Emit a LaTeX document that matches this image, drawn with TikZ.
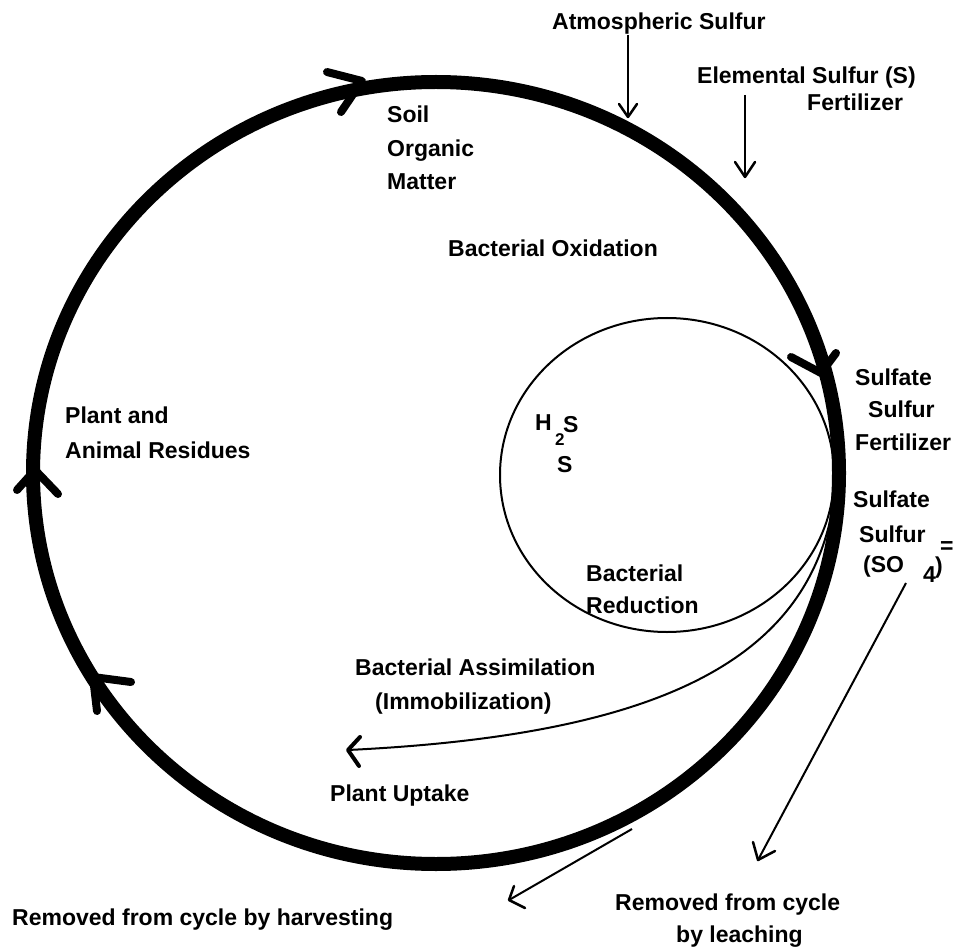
\documentclass[tikz,border=0pt]{standalone}
\usepackage{fontspec}
\setmainfont{Liberation Sans}
\begin{document}
\begin{tikzpicture}[x=1pt,y=-1pt,
  lbl/.style={anchor=base west, inner sep=0pt, font=\bfseries\fontsize{23}{28}\selectfont},
  sublbl/.style={anchor=base west, inner sep=0pt, font=\bfseries\fontsize{17}{20}\selectfont},
  bigring/.style={line width=14pt},
  smallring/.style={line width=2pt},
  barb/.style={line width=8pt, line cap=round, line join=round},
  thinline/.style={line width=2pt},
  tbarb/.style={line width=2.5pt, line cap=round, line join=round}]
\useasboundingbox (0,0) rectangle (958,949);
% rings
\coordinate (bigc) at (436,473);
\coordinate (smallc) at (667,475);
\draw[bigring] (bigc) ellipse [x radius=403, y radius=391];
\draw[smallring] (smallc) ellipse [x radius=167, y radius=157];
% arrowheads on the big ring
\coordinate (t1) at (362,81); \coordinate (t1a) at (327,72); \coordinate (t1b) at (341,112);
\draw[barb] (t1a) -- (t1) -- (t1b);
\coordinate (t2) at (821,373); \coordinate (t2a) at (791,357); \coordinate (t2b) at (836,353);
\draw[barb] (t2a) -- (t2) -- (t2b);
\coordinate (t3) at (35,470); \coordinate (t3a) at (17,490); \coordinate (t3b) at (58,494);
\draw[barb] (t3a) -- (t3) -- (t3b);
\coordinate (t4) at (93,677); \coordinate (t4a) at (131,682); \coordinate (t4b) at (97,711);
\draw[barb] (t4a) -- (t4) -- (t4b);
% texts
\node[lbl] (atm) at (552,30) {Atmospheric Sulfur};
\node[lbl] (elem) at (697,84) {Elemental Sulfur (S)};
\node[lbl] (elemf) at (807,111) {Fertilizer};
\node[lbl] (soil) at (387,123) {Soil};
\node[lbl] (org) at (387,157) {Organic};
\node[lbl] (mat) at (387,190) {Matter};
\node[lbl] (box) at (448,257) {Bacterial Oxidation};
\node[lbl] (sf1) at (855,385) {Sulfate};
\node[lbl] (sf2) at (868,417) {Sulfur};
\node[lbl] (sf3) at (855,450) {Fertilizer};
\node[lbl] (ss1) at (853,507) {Sulfate};
\node[lbl] (ss2) at (859,542) {Sulfur};
\node[lbl] (ss3) at (863,572) {(SO};
\node[lbl] (ss4) at (923,582) {4};
\node[lbl] (ss5) at (935,573) {)};
\node[lbl] (ss6) at (940,553) {=};
\node[lbl] (pa1) at (65,423) {Plant and};
\node[lbl] (pa2) at (65,458) {Animal Residues};
\node[lbl] (hh) at (535,430) {H};
\node[sublbl] (h2) at (555,445) {2};
\node[lbl] (hs) at (563,432) {S};
\node[lbl] (ss) at (557,472) {S};
\node[lbl] (br1) at (586,581) {Bacterial};
\node[lbl] (br2) at (586,613) {Reduction};
\node[lbl] (ba1) at (355,675) {Bacterial Assimilation};
\node[lbl] (ba2) at (375,709) {(Immobilization)};
\node[lbl] (pu) at (330,801) {Plant Uptake};
\node[lbl] (harv) at (12,925) {Removed from cycle by harvesting};
\node[lbl] (lea1) at (615,910) {Removed from cycle};
\node[lbl] (lea2) at (676,942) {by leaching};
% input arrows
\coordinate (a1s) at (628,35); \coordinate (a1t) at (628,117);
\coordinate (a1l) at (619,104); \coordinate (a1r) at (637,104);
\draw[thinline] (a1s) -- (a1t);
\draw[tbarb] (a1l) -- (a1t) -- (a1r);
\coordinate (a2s) at (745,95); \coordinate (a2t) at (745,177);
\coordinate (a2l) at (735,162); \coordinate (a2r) at (755,162);
\draw[thinline] (a2s) -- (a2t);
\draw[tbarb] (a2l) -- (a2t) -- (a2r);
% assimilation curve
\coordinate (as) at (834,500); \coordinate (at) at (348,750);
\coordinate (al) at (360,737); \coordinate (ar) at (359,766);
\draw[thinline] (as) .. controls (810,660) and (660,735) .. (at);
\draw[line width=4pt, line cap=round, line join=round] (al) -- (at) -- (ar);
% leaching
\coordinate (ls) at (906,583); \coordinate (lt) at (758,860);
\coordinate (ll) at (753,842); \coordinate (lr) at (775,851);
\draw[thinline] (ls) -- (lt);
\draw[tbarb] (ll) -- (lt) -- (lr);
% harvesting
\coordinate (hs0) at (632,829); \coordinate (ht) at (509,900);
\coordinate (hl) at (514,886); \coordinate (hr) at (525,908);
\draw[thinline] (hs0) -- (ht);
\draw[tbarb] (hl) -- (ht) -- (hr);
\end{tikzpicture}
\end{document}
